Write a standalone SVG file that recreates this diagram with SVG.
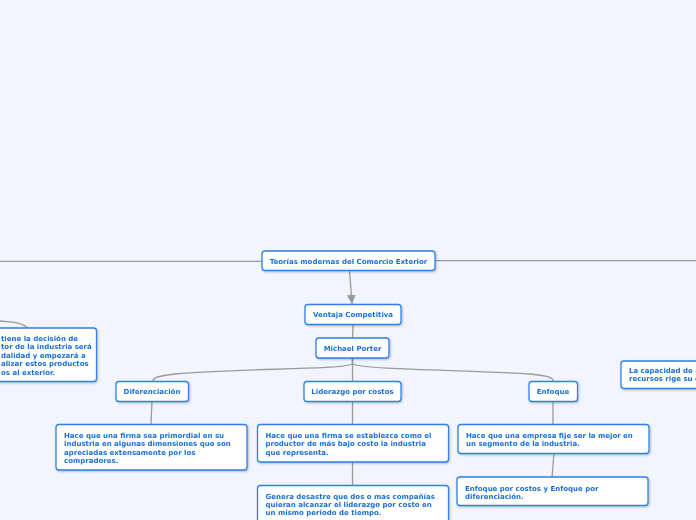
<svg xmlns="http://www.w3.org/2000/svg" width="696" height="520" viewBox="0 0 696 520">
<style>
.n{fill:#ffffff;stroke:#2f80e4;stroke-width:1.3}
.t{font-family:"DejaVu Sans",Verdana,sans-serif;font-weight:bold;font-size:7px;fill:#1a6fd4}
.c{text-anchor:middle}
.l{fill:none;stroke:#999999;stroke-width:1.3}
</style>
<defs>
<filter id="sh" x="-10%" y="-20%" width="130%" height="160%">
<feDropShadow dx="1" dy="1" stdDeviation="0.8" flood-color="#000" flood-opacity="0.25"/>
</filter>
<marker id="ar" viewBox="0 0 10 10" refX="10" refY="5" markerWidth="9" markerHeight="9" markerUnits="userSpaceOnUse" orient="auto">
<path d="M0,0 L10,5 L0,10 z" fill="#999999"/>
</marker>
</defs>
<rect width="696" height="520" fill="#f2f5fd"/>
<g id="connectors">
<path class="l" d="M0,261.3 L262,261.3"/>
<path class="l" d="M435,260.7 L696,260.7"/>
<path class="l" d="M349.5,270.5 L352,304" marker-end="url(#ar)"/>
<path class="l" d="M353,325 L352.5,338"/>
<path class="l" d="M28,328 C 22,322 10,322 0,321"/>
<path class="l" d="M352.5,358 L352.5,364 C 340,370 240,368 175,374 C 160,376 153,377 153,381"/>
<path class="l" d="M352.5,358 L352.5,381"/>
<path class="l" d="M352.5,358 L352.5,364 C 365,370 470,370 530,374 C 548,376 553,377 553,381"/>
<path class="l" d="M152,401 L151,424"/>
<path class="l" d="M352.5,401 L352.5,424"/>
<path class="l" d="M352.5,462 L352.5,485"/>
<path class="l" d="M553,401 L553,424"/>
<path class="l" d="M554,453 L552,477"/>
</g>
<g id="main" filter="url(#sh)">
<rect class="n" x="262" y="251" width="173" height="19.5" rx="3"/>
<text class="t c" x="348.5" y="263.5">Teorías modernas del Comercio Exterior</text>
</g>
<g id="ventaja" filter="url(#sh)">
<rect class="n" x="305" y="304.5" width="96" height="20" rx="3"/>
<text class="t c" x="353" y="317">Ventaja Competitiva</text>
</g>
<g id="porter" filter="url(#sh)">
<rect class="n" x="316" y="338" width="73" height="20" rx="3"/>
<text class="t c" x="352.5" y="350.5">Michael Porter</text>
</g>
<g id="left-node" filter="url(#sh)">
<rect class="n" x="-20" y="328" width="116.5" height="53.5" rx="3"/>
<text class="t" x="1" y="341">tiene la decisión de</text>
<text class="t" x="1" y="349.4">tor de la industria será</text>
<text class="t" x="1" y="357.8">dalidad y empezará a</text>
<text class="t" x="1" y="366.2">alizar estos productos</text>
<text class="t" x="1" y="374.6">os al exterior.</text>
</g>
<g id="right-node" filter="url(#sh)">
<rect class="n" x="621" y="361" width="90" height="27.5" rx="3"/>
<text class="t" x="629" y="372.5">La capacidad de a</text>
<text class="t" x="629" y="381">recursos rige su e</text>
</g>
<g id="diferenciacion" filter="url(#sh)">
<rect class="n" x="116" y="381.5" width="72.5" height="20" rx="3"/>
<text class="t c" x="152" y="394">Diferenciación</text>
</g>
<g id="liderazgo" filter="url(#sh)">
<rect class="n" x="304" y="381.5" width="97" height="20" rx="3"/>
<text class="t c" x="352.5" y="394">Liderazgo por costos</text>
</g>
<g id="enfoque" filter="url(#sh)">
<rect class="n" x="529" y="381.5" width="48.5" height="20" rx="3"/>
<text class="t c" x="553" y="394">Enfoque</text>
</g>
<g id="dif-desc" filter="url(#sh)">
<rect class="n" x="56" y="424.5" width="191" height="45.5" rx="3"/>
<text class="t" x="64" y="437.8">Hace que una firma sea primordial en su</text>
<text class="t" x="64" y="446.2">industria en algunas dimensiones que son</text>
<text class="t" x="64" y="454.6">apreciadas extensamente por los</text>
<text class="t" x="64" y="463">compradores.</text>
</g>
<g id="lid-desc1" filter="url(#sh)">
<rect class="n" x="257.5" y="424.5" width="191" height="37.5" rx="3"/>
<text class="t" x="265.5" y="437.8">Hace que una firma se establezca como el</text>
<text class="t" x="265.5" y="446.2">productor de más bajo costo la industria</text>
<text class="t" x="265.5" y="454.6">que representa.</text>
</g>
<g id="lid-desc2" filter="url(#sh)">
<rect class="n" x="257.5" y="485.5" width="191" height="37" rx="3"/>
<text class="t" x="265.5" y="498.5">Genera desastre que dos o mas compañías</text>
<text class="t" x="265.5" y="506.9">quieran alcanzar el liderazgo por costo en</text>
<text class="t" x="265.5" y="515.3">un mismo periodo de tiempo.</text>
</g>
<g id="enf-desc1" filter="url(#sh)">
<rect class="n" x="458" y="424.5" width="191" height="29" rx="3"/>
<text class="t" x="466" y="437.8">Hace que una empresa fije ser la mejor en</text>
<text class="t" x="466" y="446.2">un segmento de la industria.</text>
</g>
<g id="enf-desc2" filter="url(#sh)">
<rect class="n" x="457" y="477" width="191" height="28.5" rx="3"/>
<text class="t" x="465" y="490.5">Enfoque por costos y Enfoque por</text>
<text class="t" x="465" y="498.9">diferenciación.</text>
</g>
</svg>
